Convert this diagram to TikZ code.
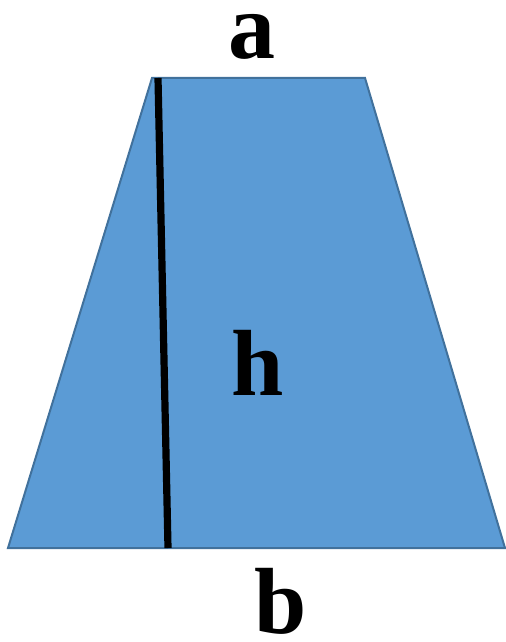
\documentclass[tikz,border=0pt]{standalone}
\usepackage{fontspec}
\setmainfont{Liberation Serif}
\usetikzlibrary{positioning}

\definecolor{trapfill}{HTML}{5B9BD5}
\definecolor{trapedge}{HTML}{41719C}

\begin{document}
\begin{tikzpicture}[
      x=0.5pt, y=-0.5pt,
      trapezium/.style={fill=trapfill, draw=trapedge, line width=1pt, line join=miter},
      heightline/.style={line width=3.6pt, draw=black},
      lbl/.style={font=\fontsize{47}{56}\selectfont\bfseries, anchor=base, inner sep=0pt,
        text height=1.6ex, text depth=0pt}
    ]
    \useasboundingbox (0,0) rectangle (506,642);

    % corners of the trapezoid
    \coordinate (tl) at (152,78);
    \coordinate (tr) at (365,78);
    \coordinate (br) at (505,548);
    \coordinate (bl) at (8,548);
    \draw[trapezium] (tl) -- (tr) -- (br) -- (bl) -- cycle;

    % height
    \coordinate (htop) at (158,78);
    \coordinate (hbot) at (168,548);
    \draw[heightline] (htop) -- (hbot);

    \node[lbl] (a) at (252,59) {a};
    \node[lbl] (h) at (258,395) {h};
    \node[lbl] (b) at (281,633) {b};
  \end{tikzpicture}
\end{document}
